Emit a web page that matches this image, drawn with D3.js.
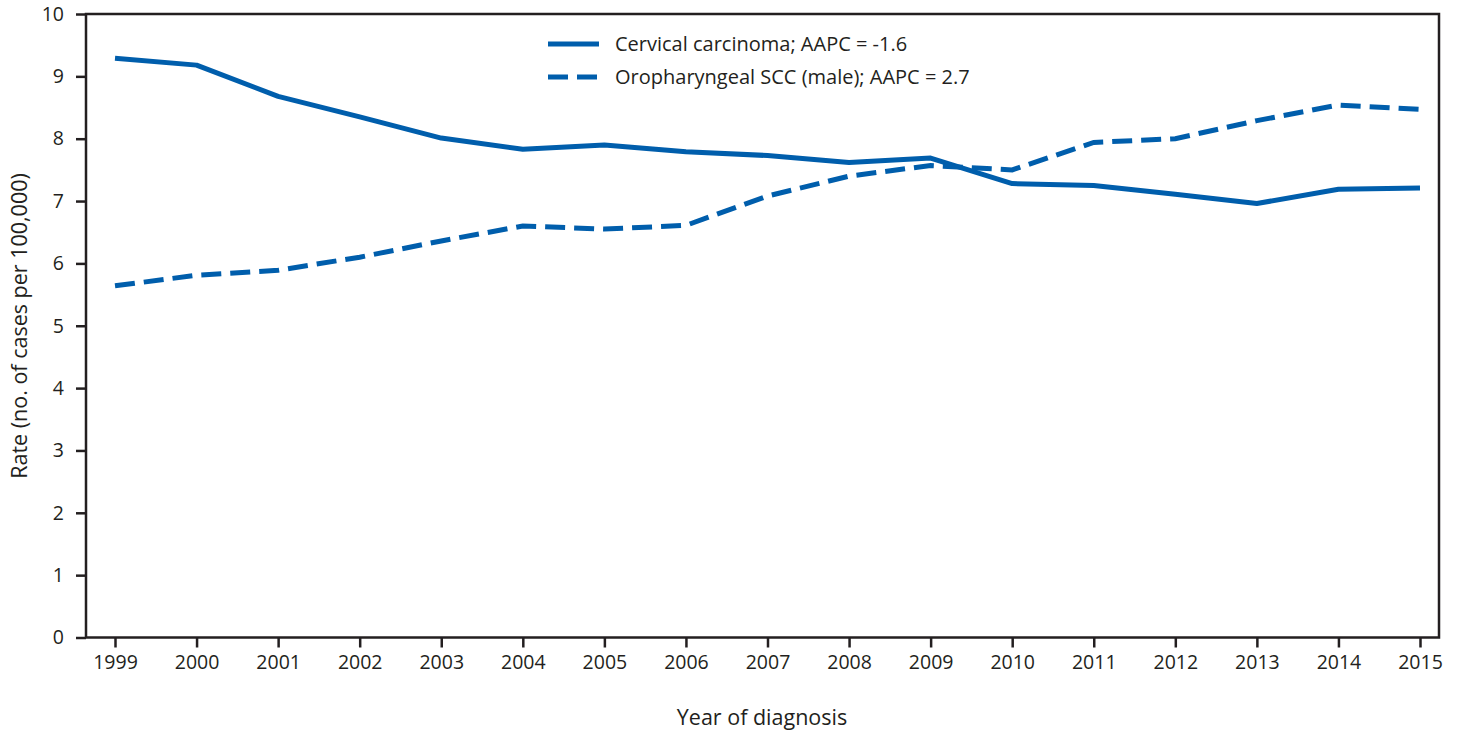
<!DOCTYPE html>
<html><head><meta charset="utf-8">
<script src="https://cdn.jsdelivr.net/npm/d3@7"></script>
<style>
body{margin:0;background:#fff;}
text{font-family:"Open Sans",sans-serif;fill:#231f20;}
</style></head>
<body><svg id="c" width="1457" height="731"></svg>
<script>
const years = [1999,2000,2001,2002,2003,2004,2005,2006,2007,2008,2009,2010,2011,2012,2013,2014,2015];
const cervical = [9.29,9.18,8.68,8.35,8.01,7.83,7.90,7.79,7.73,7.62,7.69,7.28,7.25,7.11,6.96,7.19,7.21];
const oropharyngeal = [5.64,5.81,5.89,6.10,6.36,6.60,6.55,6.61,7.08,7.40,7.57,7.50,7.94,8.00,8.29,8.54,8.47];
const yTicks = [0,1,2,3,4,5,6,7,8,9,10];
const seriesNames = ["Cervical carcinoma; AAPC = -1.6","Oropharyngeal SCC (male); AAPC = 2.7"];

const svg = d3.select("#c");
const L=86,R=1439,T=14,B=637.5;
const x = d3.scaleLinear().domain([1999,2015]).range([115,1420]);
const y = d3.scaleLinear().domain([0,10]).range([B,T]);
const axisColor="#231f20", blue="#005eac";

// frame
svg.append("rect").attr("x",L).attr("y",T).attr("width",R-L).attr("height",B-T)
  .attr("fill","none").attr("stroke",axisColor).attr("stroke-width",2.5);

const ya = svg.append("g").attr("transform",`translate(${L},0)`)
  .call(d3.axisLeft(y).tickValues(yTicks).tickSize(10).tickPadding(12).tickFormat(d3.format("d")));
const xa = svg.append("g").attr("transform",`translate(0,${B})`)
  .call(d3.axisBottom(x).tickValues(years).tickSize(10).tickPadding(8).tickFormat(d3.format("d")));
[ya,xa].forEach(g=>{
  g.select(".domain").remove();
  g.selectAll(".tick line").attr("stroke",axisColor).attr("stroke-width",2.5);
  g.selectAll(".tick text").attr("font-family","'Open Sans',sans-serif").attr("font-size",19.5).attr("fill",axisColor);
});

const line = d3.line().x((d,i)=>x(years[i])).y(d=>y(d));
svg.append("path").datum(cervical).attr("d",line).attr("fill","none")
  .attr("stroke",blue).attr("stroke-width",5).attr("stroke-linejoin","round");
svg.append("path").datum(oropharyngeal).attr("d",line).attr("fill","none")
  .attr("stroke",blue).attr("stroke-width",5).attr("stroke-dasharray","20,9");

// legend
const leg = svg.append("g");
seriesNames.forEach((n,i)=>{
  const yy = 44 + i*33;
  leg.append("line").attr("x1",548).attr("x2",599).attr("y1",yy).attr("y2",yy)
    .attr("stroke",blue).attr("stroke-width",5).attr("stroke-dasharray", i? "20,9":null);
  leg.append("text").attr("x",615).attr("y",yy).attr("dy","0.35em").attr("font-size",20).text(n);
});

svg.append("text").attr("x",762).attr("y",725).attr("text-anchor","middle").attr("font-size",21.5).text("Year of diagnosis");
svg.append("text").attr("transform","translate(27,326) rotate(-90)").attr("text-anchor","middle").attr("font-size",21.5).text("Rate (no. of cases per 100,000)");
</script></body></html>
